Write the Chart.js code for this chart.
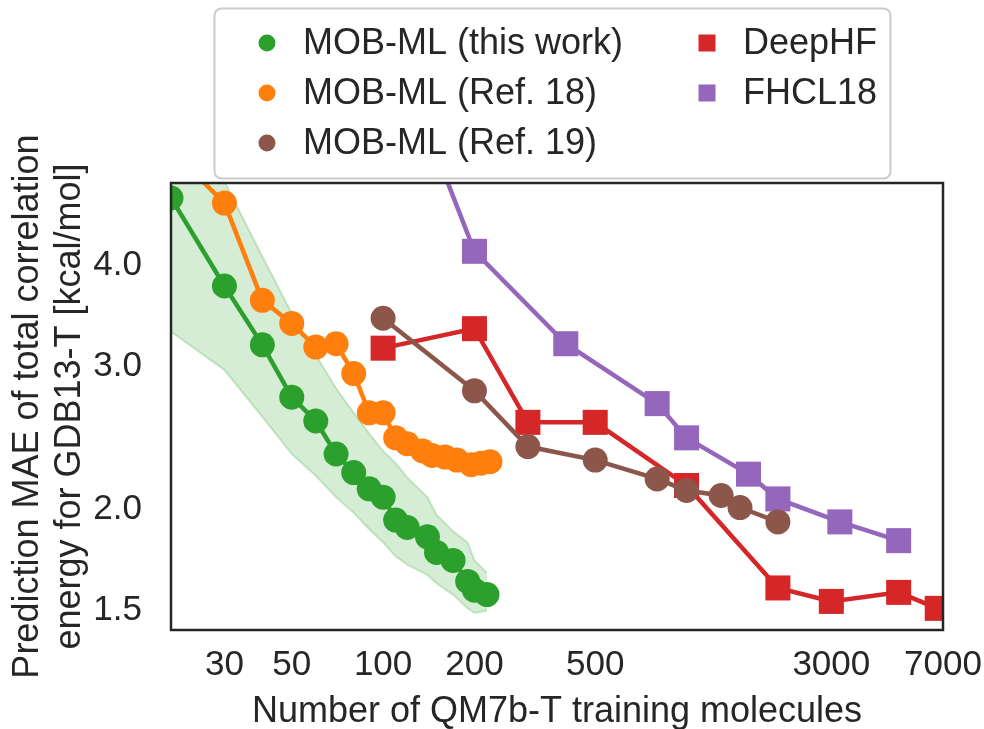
<!DOCTYPE html>
<html>
<head>
<meta charset="utf-8">
<script src="https://cdn.jsdelivr.net/npm/chart.js@4/dist/chart.umd.min.js"></script>
<style>
  html, body { margin: 0; padding: 0; background: #ffffff; }
  #wrap { width: 984px; height: 729px; position: relative; }
</style>
</head>
<body>
<div id="wrap"><canvas id="c" width="984" height="729"></canvas></div>
<script>
// Learning curves: MAE of total correlation energy (GDB13-T) vs. number of QM7b-T training molecules

// MOB-ML (this work), with spread band
const nThisWork   = [20, 30, 40, 50, 60, 70, 80, 90, 100, 110, 120, 140, 150, 170, 190, 200, 220];
const maeThisWork = [4.84, 3.77, 3.19, 2.75, 2.57, 2.34, 2.22, 2.12, 2.07, 1.94, 1.90, 1.85, 1.77, 1.73, 1.63, 1.59, 1.57];
const bandUpper   = [6.50, 5.07, 4.10, 3.49, 3.10, 2.82, 2.63, 2.48, 2.36, 2.28, 2.19, 2.07, 1.97, 1.88, 1.82, 1.73, 1.67];
const bandLower   = [3.31, 2.97, 2.60, 2.34, 2.20, 2.07, 1.98, 1.89, 1.82, 1.75, 1.71, 1.66, 1.62, 1.57, 1.51, 1.49, 1.50];

// MOB-ML (Ref. 18)
const nRef18   = [20, 30, 40, 50, 60, 70, 80, 90, 100, 110, 120, 135, 145, 160, 175, 195, 210, 225];
const maeRef18 = [5.55, 4.77, 3.62, 3.39, 3.17, 3.20, 2.94, 2.63, 2.63, 2.45, 2.41, 2.36, 2.33, 2.32, 2.30, 2.27, 2.28, 2.29];

// MOB-ML (Ref. 19)
const nRef19   = [100, 200, 300, 500, 800, 1000, 1300, 1500, 2000];
const maeRef19 = [3.44, 2.80, 2.39, 2.30, 2.18, 2.11, 2.08, 2.01, 1.93];

// DeepHF
const nDeepHF   = [100, 200, 300, 500, 1000, 2000, 3000, 5000, 6700];
const maeDeepHF = [3.16, 3.34, 2.56, 2.56, 2.14, 1.60, 1.54, 1.58, 1.51];

// FHCL18
const nFHCL18   = [100, 200, 400, 800, 1000, 1600, 2000, 3200, 5000];
const maeFHCL18 = [8.1, 4.16, 3.20, 2.70, 2.45, 2.21, 2.06, 1.93, 1.83];

// Axis ticks
const xTickValues = [30, 50, 100, 200, 500, 3000, 7000];
const yTickValues = [1.5, 2.0, 3.0, 4.0];
const yTickLabels = ['1.5', '2.0', '3.0', '4.0'];

const seriesLabels = ['MOB-ML (this work)', 'MOB-ML (Ref. 18)', 'MOB-ML (Ref. 19)', 'DeepHF', 'FHCL18'];
const seriesColors = ['#2ca02c', '#ff7f0e', '#8c564b', '#d62728', '#9467bd'];

const FONT = '"Liberation Sans", Arial, Helvetica, sans-serif';
const TEXT = '#262626';

const pts = (xs, ys) => xs.map((x, i) => ({ x: x, y: ys[i] }));

function seriesDataset(idx, xs, ys, style, order) {
  const circle = style === 'circle';
  return {
    label: seriesLabels[idx],
    data: pts(xs, ys),
    borderColor: seriesColors[idx],
    backgroundColor: seriesColors[idx],
    borderWidth: 4.5,
    pointStyle: style,
    pointRadius: circle ? 12.5 : 17.7,
    pointBorderWidth: 0,
    pointHoverRadius: circle ? 12.5 : 17.7,
    tension: 0,
    fill: false,
    order: order
  };
}

const datasets = [
  {
    label: 'band-upper',
    data: pts(nThisWork, bandUpper),
    borderColor: 'rgba(44,160,44,0.22)',
    borderWidth: 2,
    pointRadius: 0,
    fill: false,
    order: 10
  },
  {
    label: 'band-lower',
    data: pts(nThisWork, bandLower),
    borderColor: 'rgba(44,160,44,0.22)',
    backgroundColor: 'rgba(44,160,44,0.2)',
    borderWidth: 2,
    pointRadius: 0,
    fill: '-1',
    order: 9
  },
  seriesDataset(3, nDeepHF, maeDeepHF, 'rect', 6),
  seriesDataset(4, nFHCL18, maeFHCL18, 'rect', 5),
  seriesDataset(2, nRef19, maeRef19, 'circle', 4),
  seriesDataset(1, nRef18, maeRef18, 'circle', 3),
  seriesDataset(0, nThisWork, maeThisWork, 'circle', 2)
];

// Frame around the plotting area
const framePlugin = {
  id: 'frame',
  afterDatasetsDraw(chart) {
    const { ctx, chartArea: a } = chart;
    ctx.save();
    ctx.strokeStyle = TEXT;
    ctx.lineWidth = 2.5;
    ctx.strokeRect(a.left, a.top, a.right - a.left, a.bottom - a.top);
    ctx.restore();
  }
};

// Two-column boxed legend above the plot
const legendPlugin = {
  id: 'boxLegend',
  afterDraw(chart) {
    const ctx = chart.ctx;
    ctx.save();
    const bx = 214.5, by = 8.5, bw = 676, bh = 170, r = 7;
    ctx.beginPath();
    ctx.moveTo(bx + r, by);
    ctx.arcTo(bx + bw, by, bx + bw, by + bh, r);
    ctx.arcTo(bx + bw, by + bh, bx, by + bh, r);
    ctx.arcTo(bx, by + bh, bx, by, r);
    ctx.arcTo(bx, by, bx + bw, by, r);
    ctx.closePath();
    ctx.fillStyle = 'rgba(255,255,255,0.85)';
    ctx.fill();
    ctx.strokeStyle = '#cccccc';
    ctx.lineWidth = 2;
    ctx.stroke();

    const items = [
      { i: 0, col: 0, row: 0, shape: 'circle' },
      { i: 1, col: 0, row: 1, shape: 'circle' },
      { i: 2, col: 0, row: 2, shape: 'circle' },
      { i: 3, col: 1, row: 0, shape: 'rect' },
      { i: 4, col: 1, row: 1, shape: 'rect' }
    ];
    const markerX = [267, 707], textX = [303, 743];
    ctx.font = '36px ' + FONT;
    ctx.textBaseline = 'middle';
    ctx.textAlign = 'left';
    items.forEach(it => {
      const y = 43 + it.row * 50;
      const mx = markerX[it.col];
      ctx.fillStyle = seriesColors[it.i];
      if (it.shape === 'circle') {
        ctx.beginPath();
        ctx.arc(mx, y, 8.5, 0, Math.PI * 2);
        ctx.fill();
      } else {
        ctx.fillRect(mx - 8.5, y - 8.5, 17, 17);
      }
      ctx.fillStyle = TEXT;
      ctx.fillText(seriesLabels[it.i], textX[it.col], y + 1);
    });
    ctx.restore();
  }
};

new Chart(document.getElementById('c'), {
  type: 'line',
  data: { datasets: datasets },
  plugins: [framePlugin, legendPlugin],
  options: {
    responsive: false,
    animation: false,
    events: [],
    layout: { padding: { top: 183, right: 41, left: 0, bottom: 0 } },
    plugins: { legend: { display: false }, tooltip: { enabled: false } },
    scales: {
      x: {
        type: 'logarithmic',
        min: 20,
        max: 7000,
        grid: { display: false },
        border: { display: false },
        afterBuildTicks: s => { s.ticks = xTickValues.map(v => ({ value: v })); },
        afterFit: s => { s.height = 99; s.paddingLeft = 0; s.paddingRight = 0; },
        ticks: {
          autoSkip: false,
          maxRotation: 0,
          padding: 6,
          color: TEXT,
          font: { family: FONT, size: 35 },
          callback: v => String(v)
        },
        title: {
          display: true,
          text: 'Number of QM7b-T training molecules',
          color: TEXT,
          font: { family: FONT, size: 36, lineHeight: 1 },
          padding: { top: 0, bottom: -1 }
        }
      },
      y: {
        type: 'logarithmic',
        min: 1.42,
        max: 5.05,
        grid: { display: false },
        border: { display: false },
        afterBuildTicks: s => { s.ticks = yTickValues.map(v => ({ value: v })); },
        afterFit: s => { s.width = 171; s.paddingTop = 0; s.paddingBottom = 0; },
        ticks: {
          autoSkip: false,
          padding: 21,
          color: TEXT,
          font: { family: FONT, size: 35 },
          callback: v => {
            const k = yTickValues.indexOf(v);
            return k >= 0 ? yTickLabels[k] : '';
          }
        },
        title: {
          display: true,
          text: ['Prediction MAE of total correlation', 'energy for GDB13-T [kcal/mol]'],
          color: TEXT,
          font: { family: FONT, size: 36, lineHeight: 1.1667 },
          padding: { top: 7, bottom: 0 }
        }
      }
    }
  }
});
</script>
</body>
</html>
